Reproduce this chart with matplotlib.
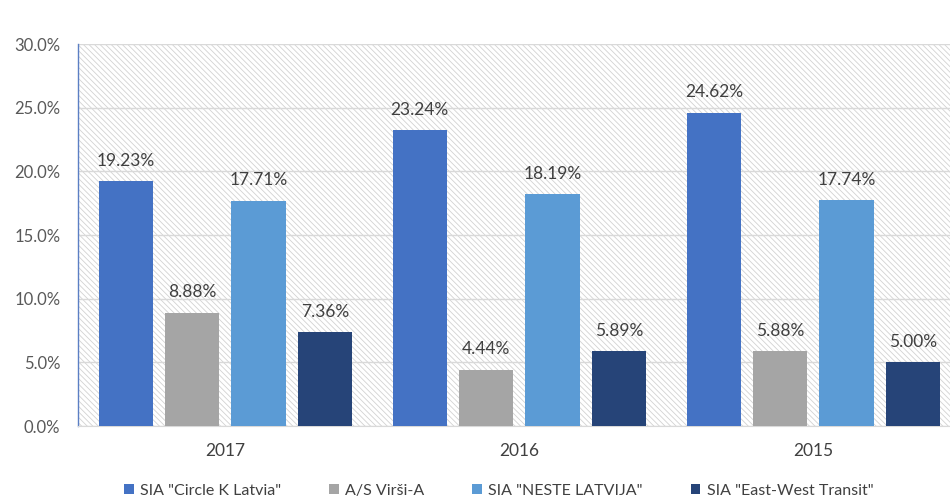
import matplotlib
matplotlib.use("Agg")
import matplotlib.pyplot as plt
import numpy as np
from matplotlib.patches import Rectangle

plt.rcParams['font.family'] = ['Lato', 'DejaVu Sans']
plt.rcParams['hatch.linewidth'] = 0.6
plt.rcParams['hatch.color'] = '#d2d2d2'

years = ["2017", "2016", "2015"]
series_names = ['SIA "Circle K Latvia"', 'A/S Virši-A', 'SIA "NESTE LATVIJA"', 'SIA "East-West Transit"']
circle_k = [19.23, 23.24, 24.62]
virsi = [8.88, 4.44, 5.88]
neste = [17.71, 18.19, 17.74]
east_west = [7.36, 5.89, 5.00]
yticks = [0, 5, 10, 15, 20, 25, 30]

series = [circle_k, virsi, neste, east_west]
colors = ['#4472C4', '#A5A5A5', '#5B9BD5', '#264478']

fig = plt.figure(figsize=(9.5, 5.03), dpi=100)
ax = fig.add_axes([0.0826, 0.153, 0.9284, 0.7595])

bg = Rectangle((0, 0), 1, 1, transform=ax.transAxes, facecolor='white',
               edgecolor='#d2d2d2', hatch='\\' * 6, linewidth=0, zorder=0)
ax.add_patch(bg)

x = np.arange(len(years))
width = 0.185
step = 0.226
for i, (vals, c, name) in enumerate(zip(series, colors, series_names)):
    pos = x + (i - 1.5) * step
    bars = ax.bar(pos, vals, width, color=c, label=name, zorder=3)
    for b, v in zip(bars, vals):
        ax.annotate(f"{v:.2f}%", (b.get_x() + b.get_width() / 2, v),
                    xytext=(0, 9), textcoords='offset points',
                    ha='center', va='bottom', fontsize=12.5, color='#404040', zorder=4)

ax.set_xlim(-0.5, 2.5)
ax.set_ylim(0, 30)
ax.set_yticks(yticks)
ax.set_yticklabels([f"{t:.1f}%" for t in yticks], fontsize=12, color='#595959')
ax.set_xticks(x)
ax.set_xticklabels(years, fontsize=12.5, color='#404040')
ax.tick_params(length=0)
ax.tick_params(axis='y', pad=13)
ax.tick_params(axis='x', pad=12)
ax.grid(axis='y', color='#d9d9d9', linewidth=1, zorder=1)
ax.set_axisbelow(True)
for s in ['top', 'right']:
    ax.spines[s].set_visible(False)
ax.spines['left'].set_color('#5B7FC4')
ax.spines['left'].set_linewidth(1)
ax.spines['bottom'].set_color('#d9d9d9')

leg = fig.legend(loc='center', bbox_to_anchor=(0.525, 0.024), ncol=4, frameon=False,
                 fontsize=11.5, handlelength=0.6, handleheight=0.6, columnspacing=3.0,
                 handletextpad=0.4)
for t in leg.get_texts():
    t.set_color('#404040')

fig.savefig("out.png", dpi=100)
